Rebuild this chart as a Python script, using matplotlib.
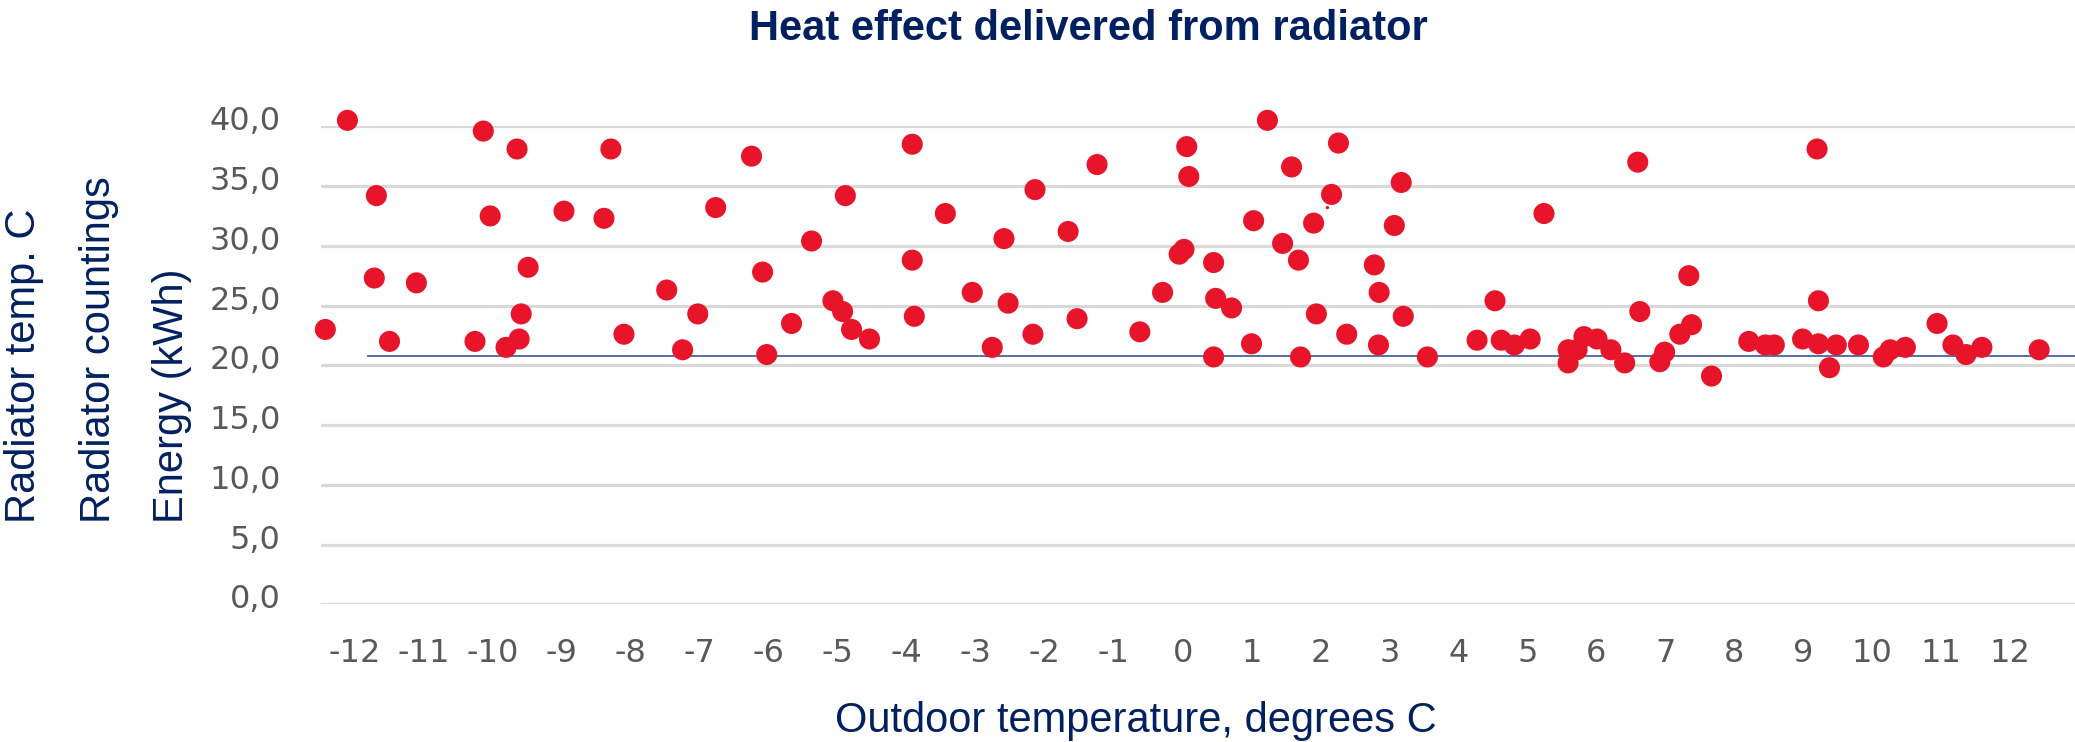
import matplotlib
matplotlib.use('Agg')
import matplotlib.pyplot as plt
import matplotlib.transforms as mtransforms
import numpy as np

# outdoor temperature (degrees C) and energy delivered (kWh)
outdoor_temp = [-12.43, -12.11, -11.72, -11.69, -11.50, -11.11, -10.26, -10.14, -10.04, -9.81,
                -9.65, -9.62, -9.59, -9.49, -8.97, -8.39, -8.29, -8.10, -7.48, -7.25,
                -7.03, -6.77, -6.25, -6.09, -6.03, -5.67, -5.38, -5.07, -4.93, -4.89,
                -4.80, -4.54, -3.92, -3.92, -3.89, -3.44, -3.05, -2.76, -2.59, -2.53,
                -2.17, -2.14, -1.66, -1.53, -1.24, -0.62, -0.29, -0.05, 0.02, 0.06,
                0.09, 0.45, 0.45, 0.48, 0.71, 1.00, 1.03, 1.23, 1.45, 1.58,
                1.68, 1.71, 1.90, 1.94, 2.16, 2.26, 2.38, 2.78, 2.84, 2.85,
                3.07, 3.17, 3.20, 3.55, 4.27, 4.53, 4.62, 4.81, 5.04, 5.24,
                5.59, 5.59, 5.72, 5.82, 6.01, 6.21, 6.41, 6.60, 6.63, 6.92,
                6.99, 7.21, 7.34, 7.38, 7.67, 8.21, 8.45, 8.58, 8.99, 9.20,
                9.22, 9.22, 9.38, 9.48, 9.80, 10.16, 10.26, 10.48, 10.94, 11.17,
                11.36, 11.59, 12.42]
energy = [23.0, 40.5, 27.3, 34.2, 22.0, 26.9, 22.0, 39.6, 32.5, 21.5,
          38.1, 22.2, 24.3, 28.2, 32.9, 32.3, 38.1, 22.6, 26.3, 21.3,
          24.3, 33.2, 37.5, 27.8, 20.9, 23.5, 30.4, 25.4, 24.5, 34.2,
          23.0, 22.2, 38.5, 28.8, 24.1, 32.7, 26.1, 21.5, 30.6, 25.2,
          22.6, 34.7, 31.2, 23.9, 36.8, 22.8, 26.1, 29.3, 29.7, 38.3,
          35.8, 28.6, 20.7, 25.6, 24.8, 21.8, 32.1, 40.5, 30.2, 36.6,
          28.8, 20.7, 31.9, 24.3, 34.3, 38.6, 22.6, 28.4, 21.7, 26.1,
          31.7, 35.3, 24.1, 20.7, 22.1, 25.4, 22.1, 21.7, 22.2, 32.7,
          20.2, 21.3, 21.3, 22.4, 22.2, 21.3, 20.2, 37.0, 24.5, 20.3,
          21.1, 22.6, 27.5, 23.4, 19.1, 22.0, 21.7, 21.7, 22.2, 38.1,
          25.4, 21.8, 19.8, 21.7, 21.7, 20.7, 21.3, 21.5, 23.5, 21.7,
          20.9, 21.5, 21.3]

# a tiny stray point in the original
stray_temp = [2.10]
stray_energy = [33.2]

# horizontal reference level
ref_level = 20.8
ref_start = -11.82

x_ticks = list(range(-12, 13))
x_tick_labels = [str(t) for t in x_ticks]
y_ticks = list(range(0, 41, 5))
y_tick_labels = [f'{v},0' for v in y_ticks]

W, H = 2075, 742
fig = plt.figure(figsize=(W / 100, H / 100), dpi=100)
fig.patch.set_facecolor('white')

ax = fig.add_axes([321 / W, (H - 604.3) / H, (W - 321) / W, (604.3 - 126.3) / H])
ax.set_xlim(-12.493, 12.94)
ax.set_ylim(0, 40)

navy = '#002060'
red = '#E8142A'
tick_grey = '#595959'

ax.set_yticks(y_ticks)
ax.set_yticklabels(y_tick_labels, fontsize=23, color=tick_grey, family='DejaVu Sans')
ax.set_xticks(x_ticks)
ax.set_xticklabels(x_tick_labels, fontsize=23, color=tick_grey, family='DejaVu Sans')
ax.tick_params(axis='both', length=0)
ax.tick_params(axis='y', pad=29)
ax.tick_params(axis='x', pad=24)
for s in ax.spines.values():
    s.set_visible(False)
ax.yaxis.grid(True, color='#D9D9D9', linewidth=2.3)
ax.set_axisbelow(True)

offset = mtransforms.ScaledTranslation(0, 8 / 100, fig.dpi_scale_trans)
for lbl in ax.get_yticklabels():
    lbl.set_transform(lbl.get_transform() + offset)

ax.hlines(ref_level, ref_start, 12.94, color='#56709E', linewidth=1.4, zorder=2)

ax.scatter(outdoor_temp, energy, s=230, color=red, edgecolors='none', zorder=3, clip_on=False)
ax.scatter(stray_temp, stray_energy, s=6, color=red, edgecolors='none', zorder=3)

fig.text(1088 / W, 1 - 40 / H, 'Heat effect delivered from radiator', ha='center', va='baseline',
         fontsize=30, fontweight='bold', color=navy, family='Liberation Sans')
fig.text(1136 / W, 1 - 732 / H, 'Outdoor temperature, degrees C', ha='center', va='baseline',
         fontsize=30, color=navy, family='Liberation Sans')

ylabels = ['Radiator temp. C', 'Radiator countings', 'Energy (kWh)']
ylabel_x = [24.5, 99, 172.5]
for txt, xpos in zip(ylabels, ylabel_x):
    fig.text(xpos / W, 1 - 523 / H, txt, rotation=90, ha='center', va='bottom',
             fontsize=30, color=navy, family='Liberation Sans')

fig.savefig('out.png', dpi=100, facecolor='white')
